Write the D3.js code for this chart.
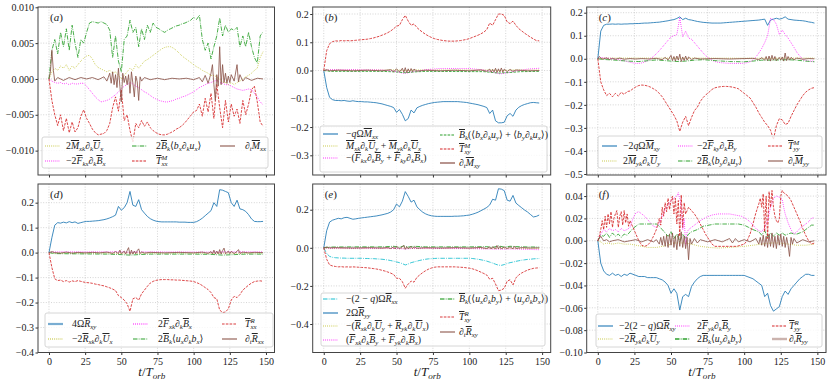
<!DOCTYPE html>
<html>
<head>
<meta charset="utf-8">
<script src="https://cdn.jsdelivr.net/npm/d3@7"></script>
<style>
body { margin: 0; background: #fff; }
svg text { font-family: "Liberation Serif", "DejaVu Serif", serif; fill: #222; }
</style>
</head>
<body>
<script>
// time axis (t / T_orb), sampled every 2 orbits
const tOrb = [0,2,4,6,8,10,12,14,16,18,
  20,22,24,26,28,30,32,34,36,38,
  40,42,44,46,48,50,52,54,56,58,
  60,62,64,66,68,70,72,74,76,78,
  80,82,84,86,88,90,92,94,96,98,
  100,102,104,106,108,110,112,114,116,118,
  120,122,124,126,128,130,132,134,136,138,
  140,142,144,146,148];

const xTicks = [0, 25, 50, 75, 100, 125, 150];
const aTicks = [-0.010, -0.005, 0, 0.005, 0.010];
const bTicks = [-0.3, -0.2, -0.1, 0, 0.1, 0.2];
const cTicks = [-0.5, -0.4, -0.3, -0.2, -0.1, 0, 0.1, 0.2];
const dTicks = [-0.4, -0.3, -0.2, -0.1, 0, 0.1, 0.2];
const eTicks = [-0.4, -0.2, 0, 0.2];
const fTicks = [-0.10, -0.08, -0.06, -0.04, -0.02, 0, 0.02, 0.04];

// ---- panel (a) : M_xx budget
const aYellow = [0,.0010,.0015,.0012,.0018,.0015,.0020,.0012,.0018,.0015,
  .0020,.0025,.0029,.0032,.0033,.0028,.0020,.0016,.0014,.0012,
  .0010,.0012,.0008,.0010,.0005,.0000,.0005,.0010,.0015,.0012,
  .0020,.0015,.0020,.0025,.0027,.0030,.0033,.0036,.0039,.0042,
  .0044,.0045,.0045,.0043,.0040,.0036,.0032,.0029,.0026,.0023,
  .0020,.0017,.0015,.0012,.0010,.0008,.0005,.0005,.0003,.0000,
  -.0005,-.0005,-.0008,-.0005,-.0008,-.0005,-.0003,.0000,.0003,.0005,
  .0008,.0012,.0015,.0030,.0038];
const aMagenta = [0,-.0003,-.0005,-.0006,-.0005,-.0007,-.0006,-.0008,-.0006,-.0007,
  -.0007,-.0006,-.0006,-.0010,-.0015,-.0020,-.0025,-.0029,-.0032,-.0031,
  -.0030,-.0028,-.0025,-.0022,-.0018,-.0014,-.0010,-.0008,-.0005,-.0007,
  -.0010,-.0012,-.0015,-.0018,-.0020,-.0023,-.0026,-.0028,-.0030,-.0031,
  -.0032,-.0032,-.0031,-.0030,-.0028,-.0027,-.0025,-.0024,-.0022,-.0020,
  -.0018,-.0015,-.0012,-.0010,-.0008,-.0006,-.0005,-.0003,-.0002,-.0005,
  -.0006,-.0008,-.0008,-.0010,-.0012,-.0014,-.0015,-.0016,-.0015,-.0014,
  -.0015,-.0020,-.0025,-.0032,-.0036];
const aGreen = [0,.0040,.0055,.0035,.0065,.0045,.0070,.0040,.0075,.0050,
  .0030,.0055,.0050,.0065,.0078,.0080,.0079,.0078,.0080,.0078,
  .0076,.0068,.0030,.0060,.0025,.0010,.0055,.0060,.0082,.0065,
  .0072,.0045,.0070,.0055,.0075,.0065,.0078,.0072,.0070,.0067,
  .0065,.0068,.0070,.0072,.0074,.0075,.0077,.0078,.0080,.0082,
  .0086,.0083,.0089,.0055,.0040,.0050,.0028,.0045,.0060,.0085,
  .0060,.0075,.0065,.0070,.0068,.0072,.0045,.0060,.0045,.0065,
  .0045,.0030,.0022,.0060,.0066];
const aRed = [0,-.0030,-.0050,-.0065,-.0050,-.0072,-.0055,-.0075,-.0060,-.0074,
  -.0068,-.0052,-.0043,-.0055,-.0062,-.0070,-.0075,-.0078,-.0077,-.0076,
  -.0072,-.0062,-.0040,-.0025,-.0045,-.0015,-.0058,-.0050,-.0072,-.0088,
  -.0062,-.0068,-.0058,-.0066,-.0060,-.0068,-.0072,-.0075,-.0077,-.0078,
  -.0078,-.0077,-.0075,-.0073,-.0070,-.0068,-.0065,-.0061,-.0056,-.0051,
  -.0046,-.0044,-.0035,-.0052,-.0027,-.0046,-.0020,-.0055,-.0007,-.0040,
  -.0068,-.0030,-.0060,-.0035,-.0052,-.0042,-.0062,-.0030,-.0050,-.0035,
  -.0015,-.0010,-.0032,-.0060,-.0066];
const aBrown = [[0,0],[1,.0010],[2,.0040],[3,.0012],[4,-.0003],[6,.0002],[10,-.0002],[14,.0002],[18,-.0001],
  [22,.0002],[26,0],[30,.0002],[34,-.0001],[38,.0003],[40,-.0003],[42,.0008],[43,-.0006],[44,.0010],
  [45,-.0008],[46,.0006],[47,-.0012],[48,.0015],[49,-.0010],[50,-.0032],[51,.0008],[52,-.0005],
  [53,.0004],[54,-.0008],[55,.0006],[56,-.0020],[57,.0010],[58,-.0006],[59,-.0025],[60,.0004],
  [61,-.0004],[62,-.0030],[63,.0003],[64,-.0003],[66,.0002],[70,-.0001],[75,.0001],[80,-.0001],
  [85,.0001],[90,0],[95,.0001],[100,-.0001],[104,.0002],[106,-.0004],[108,.0005],[110,-.0006],
  [112,.0008],[113,.0020],[114,-.0008],[115,-.0030],[116,.0006],[117,-.0010],[118,.0045],[119,-.0008],
  [120,.0020],[121,-.0005],[122,.0008],[123,-.0006],[124,.0004],[125,-.0005],[126,.0006],[128,-.0003],
  [130,.0020],[131,-.0004],[132,.0006],[134,-.0003],[136,.0002],[140,-.0002],[144,.0001],[148,0]];

// ---- panel (b) : M_xy budget
const bBlue = [0,-.060,-.095,-.103,-.106,-.106,-.107,-.106,-.108,-.109,
  -.107,-.109,-.110,-.110,-.111,-.111,-.112,-.113,-.114,-.116,
  -.118,-.121,-.124,-.127,-.131,-.148,-.138,-.155,-.178,-.170,
  -.140,-.150,-.132,-.127,-.123,-.120,-.117,-.115,-.113,-.112,
  -.111,-.110,-.110,-.110,-.110,-.110,-.110,-.111,-.112,-.113,
  -.115,-.117,-.119,-.121,-.124,-.127,-.131,-.152,-.140,-.178,
  -.185,-.185,-.183,-.160,-.152,-.162,-.140,-.130,-.124,-.120,
  -.117,-.114,-.113,-.114,-.115];
const bYellow = [[0,0],[4,.002],[50,.002],[56,.000],[64,.002],[116,.002],[122,.000],[130,.002],[148,.002]];
const bMagenta = [[0,0],[5,.003],[20,.003],[40,.002],[48,-.002],[55,-.010],[58,-.008],[62,-.004],[70,.003],
  [80,.007],[100,.007],[110,.002],[116,-.006],[121,-.012],[126,-.008],[132,-.002],[140,.005],[148,.008]];
const bGreen = [[0,0],[5,-.003],[40,-.003],[50,-.005],[56,-.008],[62,-.005],[70,-.003],[110,-.004],
  [120,-.009],[128,-.007],[135,-.004],[148,-.003]];
const bRed = [0,.070,.095,.102,.105,.104,.106,.105,.106,.105,
  .106,.107,.108,.109,.110,.111,.113,.115,.118,.121,
  .125,.129,.134,.140,.148,.157,.160,.180,.195,.175,
  .160,.165,.152,.143,.135,.128,.122,.117,.113,.110,
  .108,.106,.105,.104,.104,.104,.105,.106,.108,.110,
  .113,.117,.121,.125,.130,.136,.145,.168,.160,.180,
  .200,.200,.195,.172,.166,.175,.160,.148,.140,.132,
  .125,.118,.112,.106,.105];
const bBrown = [[0,0],[2,.003],[4,-.001],[10,.001],[20,-.001],[30,.001],[40,-.001],[46,.003],[48,-.004],
  [50,.006],[52,-.005],[54,.008],[55,-.006],[56,.010],[57,-.008],[58,.006],[59,-.005],[60,.007],
  [61,-.004],[62,.005],[64,-.002],[70,.001],[80,-.001],[90,.001],[100,-.001],[108,.002],[112,-.003],
  [114,.005],[115,-.006],[116,.004],[117,-.005],[118,.008],[119,-.007],[120,.006],[121,-.005],
  [122,.009],[123,-.006],[124,.005],[126,-.004],[128,.004],[130,-.003],[132,.002],[140,-.001],[148,0]];

// ---- panel (c) : M_yy budget
const cBlue = [0,.120,.145,.150,.150,.151,.150,.151,.150,.151,
  .151,.152,.152,.153,.153,.154,.155,.155,.156,.157,
  .158,.159,.161,.163,.165,.168,.170,.175,.182,.170,
  .176,.170,.168,.165,.162,.160,.158,.157,.156,.155,
  .155,.155,.155,.156,.157,.158,.159,.160,.161,.162,
  .163,.164,.165,.166,.167,.168,.170,.172,.145,.168,
  .172,.176,.172,.175,.182,.172,.170,.168,.167,.166,
  .165,.163,.160,.158,.155];
const cYellow = [[0,0],[4,.003],[50,.003],[58,.002],[66,.003],[118,.002],[126,.003],[148,.003]];
const cMagenta = [0,.006,.004,.002,.003,.000,-.002,-.004,-.006,-.008,
  -.012,-.015,-.018,-.020,-.020,-.018,-.014,-.008,.000,.010,
  .022,.035,.050,.065,.080,.095,.100,.105,.180,.095,
  .120,.090,.085,.070,.055,.040,.025,.012,.002,-.006,
  -.012,-.015,-.017,-.018,-.019,-.020,-.020,-.020,-.020,-.020,
  -.019,-.017,-.013,-.005,.008,.025,.045,.070,.100,.175,
  .170,.150,.105,.125,.105,.090,.070,.050,.028,.012,
  -.002,-.008,-.010,-.010,-.010];
const cGreen = [[0,0],[4,-.003],[10,-.005],[20,-.010],[28,-.012],[35,-.008],[40,-.005],[46,-.008],
  [50,-.010],[55,-.012],[60,-.010],[66,-.006],[72,-.004],[80,-.008],[90,-.012],[100,-.013],
  [106,-.010],[112,-.006],[118,-.006],[124,-.005],[130,-.004],[136,-.006],[142,-.010],[148,-.013]];
const cRed = [0,-.100,-.135,-.160,-.150,-.165,-.150,-.162,-.145,-.155,
  -.142,-.140,-.130,-.122,-.116,-.114,-.115,-.118,-.123,-.130,
  -.138,-.150,-.165,-.185,-.205,-.225,-.245,-.270,-.315,-.275,
  -.250,-.290,-.255,-.225,-.210,-.185,-.168,-.155,-.145,-.133,
  -.126,-.123,-.121,-.120,-.120,-.121,-.123,-.126,-.130,-.140,
  -.150,-.160,-.170,-.190,-.210,-.235,-.255,-.275,-.290,-.310,
  -.350,-.290,-.260,-.265,-.285,-.280,-.250,-.225,-.200,-.180,
  -.160,-.145,-.135,-.128,-.125];
const cBrown = [[0,0],[1,.010],[2,.004],[3,-.002],[6,.004],[8,-.003],[10,.002],[12,-.002],[15,.003],
  [18,-.002],[22,.001],[26,-.001],[30,.001],[35,-.001],[40,.002],[44,-.004],[46,.006],[48,-.005],
  [50,.015],[51,-.008],[52,.010],[53,-.010],[54,.012],[55,-.006],[56,.020],[57,-.012],[58,.008],
  [59,-.008],[60,.012],[61,-.006],[62,.008],[64,-.004],[66,.003],[70,-.001],[80,.001],[90,-.001],
  [100,.001],[106,.002],[110,-.004],[112,.005],[114,-.006],[115,.010],[116,-.008],[117,.012],
  [118,-.010],[119,.015],[120,-.006],[121,.010],[122,-.008],[124,.006],[125,-.006],[126,.008],
  [127,-.010],[128,.025],[129,-.008],[130,.010],[131,-.006],[132,.006],[134,-.004],[136,.003],
  [140,-.002],[144,.001],[148,0]];

// ---- panel (d) : R_xx budget
const dBlue = [0,.060,.110,.120,.118,.122,.119,.124,.120,.123,
  .117,.120,.123,.125,.125,.126,.127,.128,.130,.132,
  .135,.139,.144,.150,.185,.170,.180,.200,.245,.190,
  .185,.212,.172,.158,.145,.136,.130,.126,.124,.123,
  .123,.123,.123,.123,.123,.122,.122,.122,.121,.121,
  .121,.124,.130,.138,.148,.158,.168,.200,.185,.252,
  .250,.245,.240,.200,.185,.210,.175,.172,.165,.152,
  .135,.125,.124,.124,.125];
const dYellow = [[0,0],[4,-.002],[50,-.002],[56,-.001],[62,-.002],[148,-.002]];
const dMagenta = [[0,0],[4,.003],[50,.003],[56,.001],[62,.003],[118,.002],[124,.003],[148,.003]];
const dGreen = [[0,0],[4,-.004],[20,-.005],[40,-.006],[50,-.008],[56,-.010],[62,-.008],[70,-.006],
  [100,-.006],[112,-.007],[120,-.010],[128,-.008],[136,-.006],[148,-.006]];
const dRed = [0,-.060,-.105,-.112,-.110,-.116,-.112,-.118,-.113,-.116,
  -.112,-.115,-.118,-.120,-.121,-.123,-.126,-.128,-.131,-.133,
  -.137,-.141,-.146,-.152,-.172,-.180,-.190,-.205,-.235,-.185,
  -.180,-.190,-.165,-.150,-.135,-.122,-.115,-.111,-.109,-.108,
  -.108,-.108,-.109,-.109,-.110,-.110,-.111,-.112,-.113,-.114,
  -.116,-.120,-.125,-.132,-.140,-.148,-.160,-.180,-.185,-.230,
  -.240,-.238,-.225,-.190,-.175,-.180,-.168,-.150,-.140,-.130,
  -.122,-.116,-.114,-.113,-.115];
const dBrown = [[0,0],[2,.004],[4,0],[8,-.002],[12,.002],[16,-.002],[20,.001],[25,-.001],[30,.001],
  [35,-.001],[40,.002],[44,-.003],[46,.004],[48,-.004],[49,.010],[50,-.005],[52,.006],[53,-.006],
  [54,.008],[55,.020],[56,-.008],[57,.010],[58,-.006],[59,.006],[60,-.005],[61,.008],[62,.015],
  [63,-.004],[64,.003],[66,-.002],[70,.001],[80,-.001],[90,.001],[100,-.001],[106,.002],[110,-.003],
  [112,.004],[113,-.005],[114,.010],[115,-.006],[116,.006],[117,-.005],[118,.012],[119,-.006],
  [120,.008],[121,.018],[122,-.005],[124,.006],[125,-.004],[126,.005],[128,-.004],[130,.005],
  [131,.012],[132,-.003],[134,.002],[138,-.001],[142,.001],[148,0]];

// ---- panel (e) : R_xy budget
const eCyan = [0,-.030,-.045,-.050,-.052,-.053,-.054,-.054,-.055,-.055,
  -.055,-.055,-.055,-.055,-.056,-.056,-.057,-.057,-.058,-.059,
  -.060,-.062,-.064,-.067,-.070,-.074,-.078,-.083,-.090,-.085,
  -.078,-.074,-.070,-.066,-.063,-.060,-.058,-.057,-.056,-.055,
  -.055,-.055,-.055,-.055,-.055,-.055,-.055,-.055,-.055,-.055,
  -.055,-.056,-.058,-.060,-.063,-.066,-.070,-.075,-.080,-.086,
  -.091,-.092,-.088,-.082,-.078,-.075,-.071,-.068,-.065,-.063,
  -.061,-.060,-.058,-.057,-.056];
const eBlue = [0,.090,.135,.145,.150,.155,.152,.158,.160,.155,
  .150,.152,.155,.157,.159,.161,.163,.165,.167,.170,
  .173,.177,.181,.188,.200,.230,.215,.245,.295,.270,
  .240,.250,.215,.200,.187,.178,.172,.168,.166,.165,
  .165,.165,.165,.165,.165,.166,.166,.167,.168,.170,
  .172,.176,.181,.187,.195,.203,.212,.225,.255,.250,
  .310,.308,.300,.250,.245,.275,.235,.222,.210,.198,
  .188,.175,.162,.165,.172];
const eYellow = [[0,0],[4,-.004],[50,-.004],[56,-.002],[62,-.004],[118,-.004],[122,-.002],[130,-.004],[148,-.004]];
const eMagenta = [[0,0],[4,-.002],[30,-.003],[50,-.003],[56,-.006],[62,-.003],[100,-.004],[120,-.007],
  [130,-.006],[148,-.010]];
const eGreen = [[0,0],[4,.004],[20,.005],[40,.005],[48,.008],[52,.003],[55,.010],[58,.004],[62,.008],
  [70,.005],[100,.005],[112,.006],[116,.002],[120,.010],[124,.004],[128,.008],[136,.005],[148,.004]];
const eRed = [0,-.060,-.090,-.095,-.098,-.100,-.099,-.101,-.100,-.101,
  -.100,-.101,-.102,-.103,-.104,-.105,-.107,-.109,-.111,-.114,
  -.118,-.122,-.127,-.133,-.140,-.160,-.160,-.178,-.212,-.190,
  -.175,-.180,-.155,-.142,-.130,-.120,-.112,-.106,-.102,-.100,
  -.100,-.100,-.100,-.100,-.100,-.100,-.101,-.102,-.103,-.105,
  -.107,-.110,-.115,-.121,-.128,-.135,-.143,-.165,-.160,-.190,
  -.225,-.222,-.212,-.175,-.168,-.195,-.158,-.142,-.132,-.124,
  -.117,-.112,-.108,-.106,-.105];
const eBrown = [[0,0],[2,.004],[4,0],[10,.001],[20,-.001],[30,.001],[40,-.001],[44,.002],[46,-.004],
  [48,.005],[49,-.006],[50,.008],[52,-.005],[54,.006],[55,.012],[56,-.008],[57,.006],[58,-.005],
  [60,.007],[61,-.004],[62,.005],[64,-.002],[70,.001],[80,-.001],[90,.001],[100,-.001],[108,.002],
  [112,-.004],[114,.005],[115,-.006],[116,.006],[118,-.005],[119,.012],[120,-.006],[121,.008],
  [122,-.005],[124,.004],[126,-.004],[128,.005],[130,-.005],[131,.008],[132,-.003],[136,.001],
  [142,-.001],[148,0]];

// ---- panel (f) : R_yy budget
const fBlue = [0,-.020,-.027,-.030,-.031,-.029,-.031,-.030,-.032,-.030,
  -.031,-.029,-.030,-.031,-.032,-.032,-.032,-.033,-.033,-.033,
  -.033,-.034,-.035,-.037,-.040,-.047,-.043,-.047,-.062,-.050,
  -.048,-.050,-.041,-.037,-.034,-.032,-.031,-.031,-.031,-.031,
  -.031,-.031,-.031,-.031,-.031,-.031,-.031,-.031,-.031,-.031,
  -.031,-.032,-.033,-.034,-.036,-.038,-.040,-.050,-.047,-.058,
  -.063,-.061,-.059,-.050,-.045,-.048,-.043,-.040,-.037,-.034,
  -.032,-.030,-.030,-.031,-.031];
const fYellow = [[0,0],[2,-.001],[4,-.003],[6,-.002],[10,-.003],[14,-.002],[18,-.003],[22,-.003],
  [26,-.004],[30,-.005],[34,-.006],[40,-.006],[44,-.005],[48,-.004],[52,-.002],[56,-.002],[60,-.002],
  [64,-.003],[70,-.005],[76,-.006],[82,-.0065],[90,-.006],[100,-.005],[106,-.004],[112,-.003],
  [118,-.002],[124,-.002],[130,-.003],[136,-.004],[142,-.004],[148,-.003]];
const fMagenta = [[0,0],[2,.006],[4,.010],[6,.008],[8,.011],[10,.009],[12,.010],[14,.008],[16,.011],
  [18,.009],[20,.010],[22,.012],[24,.020],[26,.025],[28,.026],[30,.024],[32,.022],[34,.019],[36,.016],
  [38,.013],[40,.012],[42,.015],[44,.022],[46,.028],[48,.032],[50,.036],[52,.038],[54,.040],[55,.043],
  [56,.038],[57,.030],[58,.010],[59,.020],[60,-.004],[61,.008],[62,.010],[64,.012],[66,.014],[68,.016],
  [70,.018],[74,.021],[78,.023],[82,.024],[86,.024],[90,.024],[94,.023],[98,.022],[101,.020],[104,.017],
  [106,.014],[108,.011],[110,.009],[112,.008],[114,.012],[116,.018],[118,.030],[120,.038],[122,.040],
  [124,.039],[126,.037],[127,.030],[128,.024],[130,.016],[132,.010],[134,.006],[136,.008],[138,.011],
  [140,.013],[142,.015],[144,.017],[146,.020],[148,.021]];
const fGreen = [[0,0],[2,.005],[4,.004],[6,.007],[8,.003],[10,.007],[12,.004],[14,.006],[16,.003],
  [18,.006],[20,.005],[22,.008],[24,.011],[26,.013],[28,.015],[32,.015],[36,.015],[40,.015],[42,.013],
  [44,.010],[46,.007],[48,.004],[50,.008],[52,.002],[54,.006],[56,-.001],[58,.006],[60,.002],[62,.006],
  [64,.008],[68,.010],[72,.013],[76,.014],[80,.015],[90,.015],[96,.015],[100,.014],[103,.012],[106,.010],
  [110,.008],[112,.005],[114,.009],[116,.003],[118,.007],[120,.004],[122,.007],[124,.005],[126,.007],
  [128,.005],[130,.006],[132,.007],[134,.006],[136,.006],[140,.008],[142,.010],[144,.012],[146,.014],
  [148,.014]];
const fRed = [[0,0],[1,.004],[2,.010],[3,.018],[4,.010],[5,.022],[6,.012],[7,.024],[8,.015],[9,.026],
  [10,.012],[11,.020],[12,.024],[13,.027],[14,.012],[15,.022],[16,.026],[17,.014],[18,.027],[19,.016],
  [20,.024],[21,.013],[22,.018],[24,.012],[26,.006],[28,.000],[30,-.004],[32,-.005],[34,-.004],
  [36,-.001],[38,.004],[40,.010],[42,.020],[43,.014],[44,.030],[45,.022],[46,.034],[47,.026],[48,.038],
  [49,.028],[50,.036],[51,.040],[52,.024],[53,.038],[54,.015],[55,.036],[56,.004],[57,.041],[58,.012],
  [59,.034],[60,.024],[62,.030],[64,.027],[66,.024],[68,.020],[70,.015],[72,.010],[74,.005],[76,.001],
  [78,-.003],[80,-.005],[85,-.005],[90,-.005],[95,-.005],[100,-.003],[102,.000],[104,.006],[106,.015],
  [108,.025],[110,.033],[111,.038],[112,.030],[113,.042],[114,.008],[115,.040],[116,.002],[117,.044],
  [118,.030],[119,.045],[120,.030],[121,.022],[122,.018],[123,.016],[124,.020],[125,.040],[126,.045],
  [127,.043],[128,.042],[130,.040],[132,.036],[134,.030],[136,.024],[138,.018],[140,.011],[142,.005],
  [144,.000],[146,-.003],[148,-.002]];
const fBrown = [[0,0],[1,.002],[2,.004],[3,.002],[4,0],[6,.001],[8,-.001],[10,0],[14,.001],[18,-.001],
  [22,0],[26,.001],[30,-.001],[34,.001],[38,-.001],[40,.001],[42,-.003],[43,.003],[44,-.004],[45,.004],
  [46,-.005],[47,.005],[48,-.006],[49,.006],[50,-.004],[51,.007],[52,-.006],[53,.004],[54,-.008],
  [55,.006],[56,-.005],[57,.008],[58,-.006],[59,.004],[60,-.007],[61,.003],[62,-.017],[63,.002],
  [64,-.003],[66,.002],[68,-.002],[70,.001],[75,-.001],[80,.001],[85,-.001],[90,.002],[92,-.002],
  [94,.002],[96,-.001],[100,.001],[104,-.001],[108,.002],[110,-.003],[111,.003],[112,-.004],[113,.005],
  [114,-.005],[115,.004],[116,-.006],[117,.006],[118,-.005],[119,.007],[120,-.006],[121,.004],
  [122,-.007],[123,.005],[124,-.004],[125,.006],[126,-.005],[127,.004],[128,-.006],[129,.003],
  [130,-.004],[131,-.014],[132,.003],[133,-.003],[134,.002],[136,-.002],[140,.001],[144,-.001],[148,0]];

// ---------------------------------------------------------------- drawing
const width = 830, height = 383;
const xDomain = [-7.6, 155.9];
const C = {blue:'#1f77b4', olive:'#bcbd22', magenta:'#ff00ff', green:'#2ca02c',
           red:'#d62728', brown:'#8c564b', cyan:'#17becf'};
const DASH = {solid:null, dotted:'0.8,1.3', dashed:'2.6,1.2', dashdot:'4.5,1.2,0.8,1.2'};

const onGrid = vals => tOrb.map((t, i) => [t, vals[i]]);

const rowTop = {y0: 7, y1: 175}, rowBot = {y0: 184, y1: 352.5};
const colA = {x0: 38, x1: 274.5}, colB = {x0: 312.7, x1: 550.7}, colC = {x0: 586.7, x1: 826};

const panels = [
  {id:'a', ...colA, ...rowTop, yDomain:[-0.0134, 0.01004], yTicks:aTicks, fmt:'.3f', xLabels:false,
   series:[
     {pts:onGrid(aYellow), color:C.olive, dash:'dotted', label:'2~M_{xk}∂_k~U_x'},
     {pts:onGrid(aMagenta), color:C.magenta, dash:'dotted', label:'−2~F_{kx}∂_k~B_x'},
     {pts:onGrid(aGreen), color:C.green, dash:'dashdot', label:'2~B_k⟨b_x∂_ku_x⟩'},
     {pts:onGrid(aRed), color:C.red, dash:'dashed', label:'~T^M_{xx}'},
     {pts:aBrown, color:C.brown, dash:'solid', label:'∂_t~M_{xx}'}],
   legend:{box:[42,137,268,168], cols:[{hx:45,tx:66,rows:[146,161]},{hx:132,tx:156,rows:[146,161]},{hx:220,tx:245,rows:[146]}]}},
  {id:'b', ...colB, ...rowTop, yDomain:[-0.3697, 0.2248], yTicks:bTicks, fmt:'.1f', xLabels:false,
   series:[
     {pts:onGrid(bBlue), color:C.blue, dash:'solid', label:'−qΩ~M_{xx}'},
     {pts:bYellow, color:C.olive, dash:'dotted', label:'~M_{xk}∂_k~U_y + ~M_{yk}∂_k~U_x'},
     {pts:bMagenta, color:C.magenta, dash:'dotted', label:'−(~F_{kx}∂_k~B_y + ~F_{ky}∂_k~B_x)'},
     {pts:bGreen, color:C.green, dash:'dashed', label:'~B_k(⟨b_x∂_ku_y⟩ + ⟨b_y∂_ku_x⟩)'},
     {pts:onGrid(bRed), color:C.red, dash:'dashed', label:'~T^M_{xy}'},
     {pts:bBrown, color:C.brown, dash:'solid', label:'∂_t~M_{xy}', hw:1.8, ho:0.7}],
   legend:{box:[320,126,547,172], cols:[{hx:323,tx:346,rows:[134,146,158]},{hx:440,tx:459,rows:[135,149,163]}]}},
  {id:'c', ...colC, ...rowTop, yDomain:[-0.5043, 0.2247], yTicks:cTicks, fmt:'.1f', xLabels:false,
   series:[
     {pts:onGrid(cBlue), color:C.blue, dash:'solid', label:'−2qΩ~M_{xy}'},
     {pts:cYellow, color:C.olive, dash:'dotted', label:'2~M_{yk}∂_k~U_y'},
     {pts:onGrid(cMagenta), color:C.magenta, dash:'dotted', label:'−2~F_{ky}∂_k~B_y'},
     {pts:cGreen, color:C.green, dash:'dashdot', label:'2~B_k⟨b_y∂_ku_y⟩'},
     {pts:onGrid(cRed), color:C.red, dash:'dashed', label:'~T^M_{yy}'},
     {pts:cBrown, color:C.brown, dash:'solid', label:'∂_t~M_{yy}'}],
   legend:{box:[598,136,822,168], cols:[{hx:602,tx:623,rows:[146,161]},{hx:678,tx:697,rows:[146,161]},{hx:768,tx:788,rows:[146,161]}]}},
  {id:'d', ...colA, ...rowBot, yDomain:[-0.4, 0.2748], yTicks:dTicks, fmt:'.1f', xLabels:true,
   series:[
     {pts:onGrid(dBlue), color:C.blue, dash:'solid', label:'4Ω~R_{xy}', hw:2.2, ho:0.6},
     {pts:dYellow, color:C.olive, dash:'dotted', label:'−2~R_{xk}∂_k~U_x', hw:1.8, ho:0.6},
     {pts:dMagenta, color:C.magenta, dash:'dotted', label:'2~F_{xk}∂_k~B_x', hw:1.8, ho:0.6},
     {pts:dGreen, color:C.green, dash:'dashdot', label:'2~B_k⟨u_x∂_kb_x⟩'},
     {pts:onGrid(dRed), color:C.red, dash:'dashed', label:'~T^R_{xx}', hw:1.6, ho:0.6},
     {pts:dBrown, color:C.brown, dash:'solid', label:'∂_t~R_{xx}'}],
   legend:{box:[45,313,273,347], cols:[{hx:48,tx:72,rows:[324,339]},{hx:133,tx:158,rows:[324,339]},{hx:222,tx:245,rows:[324,339]}]}},
  {id:'e', ...colB, ...rowBot, yDomain:[-0.5496, 0.335], yTicks:eTicks, fmt:'.1f', xLabels:true,
   series:[
     {pts:onGrid(eCyan), color:C.cyan, dash:'dashdot', label:'−(2 − q)Ω~R_{xx}'},
     {pts:onGrid(eBlue), color:C.blue, dash:'solid', label:'2Ω~R_{yy}'},
     {pts:eYellow, color:C.olive, dash:'dotted', label:'−(~R_{xk}∂_k~U_y + ~R_{yk}∂_k~U_x)'},
     {pts:eMagenta, color:C.magenta, dash:'dotted', label:'(~F_{xk}∂_k~B_y + ~F_{yk}∂_k~B_x)'},
     {pts:eGreen, color:C.green, dash:'dashdot', label:'~B_k(⟨u_x∂_kb_y⟩ + ⟨u_y∂_kb_x⟩)', hw:2, ho:0.6},
     {pts:onGrid(eRed), color:C.red, dash:'dashed', label:'~T^R_{xy}', hw:1.6, ho:0.6},
     {pts:eBrown, color:C.brown, dash:'solid', label:'∂_t~R_{xy}'}],
   legend:{box:[321,293,545,346], cols:[{hx:323,tx:346,rows:[299,313,326,340]},{hx:440,tx:459,rows:[299,317,332]}]}},
  {id:'f', ...colC, ...rowBot, yDomain:[-0.1, 0.0508], yTicks:fTicks, fmt:'.2f', xLabels:true,
   series:[
     {pts:onGrid(fBlue), color:C.blue, dash:'solid', label:'−2(2 − q)Ω~R_{xy}'},
     {pts:fYellow, color:C.olive, dash:'dotted', label:'−2~R_{yk}∂_k~U_y'},
     {pts:fMagenta, color:C.magenta, dash:'dotted', label:'2~F_{yk}∂_k~B_y'},
     {pts:fGreen, color:C.green, dash:'dashdot', label:'2~B_k⟨u_y∂_kb_y⟩', hw:1.6},
     {pts:fRed, color:C.red, dash:'dashed', label:'~T^R_{yy}'},
     {pts:fBrown, color:C.brown, dash:'solid', label:'∂_t~R_{yy}', hw:2.4, ho:0.45}],
   legend:{box:[596,314,822,347], cols:[{hx:598,tx:619,rows:[326,339]},{hx:675,tx:697,rows:[326,339]},{hx:772,tx:789,rows:[326,339]}]}}
];

const svg = d3.select('body').append('svg')
  .attr('width', width).attr('height', height)
  .style('background', '#fff');

// tiny TeX-ish markup: ~X overbar, _x / _{..} subscript, ^x superscript
function parseTex(s) {
  const runs = [];
  let i = 0;
  while (i < s.length) {
    const c = s[i];
    if (c === '~') { runs.push({t: s[i + 1], it: true, bar: true, lv: 0}); i += 2; continue; }
    if (c === '_' || c === '^') {
      let body;
      if (s[i + 1] === '{') { const j = s.indexOf('}', i); body = s.slice(i + 2, j); i = j + 1; }
      else { body = s[i + 1]; i += 2; }
      const prev = runs[runs.length - 1];
      runs.push({t: body, it: /[A-Za-z]/.test(body), lv: c === '_' ? 1 : -1,
                 stack: c === '_' && prev && prev.lv === -1});
      continue;
    }
    runs.push({t: c, it: /[A-Za-z]/.test(c), lv: 0});
    i++;
  }
  return runs;
}

function drawTex(g, x, y, s, size, anchor) {
  const text = g.append('text').attr('x', x).attr('y', y)
    .style('font-size', size + 'px').style('white-space', 'pre');
  let cur = 0, supLen = 0;
  parseTex(s).forEach(r => {
    const target = r.lv === 1 ? size * 0.25 : r.lv === -1 ? -size * 0.4 : 0;
    const ts = text.append('tspan').attr('dy', target - cur).text(r.t)
      .style('font-style', r.it ? 'italic' : 'normal');
    if (r.lv) ts.style('font-size', (size * 0.7) + 'px');
    if (r.bar) ts.style('text-decoration', 'overline');
    if (r.stack) ts.attr('dx', -supLen);
    if (r.lv === -1) supLen = ts.node().getComputedTextLength();
    cur = target;
  });
  if (anchor) text.attr('text-anchor', anchor);
  return text;
}

function drawPanel(p) {
  const x = d3.scaleLinear().domain(xDomain).range([p.x0, p.x1]);
  const y = d3.scaleLinear().domain(p.yDomain).range([p.y1, p.y0]);
  const g = svg.append('g');

  svg.append('clipPath').attr('id', 'clip-' + p.id)
    .append('rect').attr('x', p.x0).attr('y', p.y0)
    .attr('width', p.x1 - p.x0).attr('height', p.y1 - p.y0);

  // grid
  const grid = g.append('g').attr('stroke', '#b8b8b8').attr('stroke-width', 0.6)
    .attr('stroke-dasharray', '1,1.6');
  grid.selectAll('.gx').data(xTicks).join('line')
    .attr('x1', d => x(d)).attr('x2', d => x(d)).attr('y1', p.y0).attr('y2', p.y1);
  grid.selectAll('.gy').data(p.yTicks).join('line')
    .attr('x1', p.x0).attr('x2', p.x1).attr('y1', d => y(d)).attr('y2', d => y(d));

  // curves
  const line = d3.line().x(d => x(d[0])).y(d => y(d[1]));
  const lines = g.append('g').attr('clip-path', `url(#clip-${p.id})`);
  p.series.forEach(s => {
    lines.append('path').datum(s.pts).attr('d', line)
      .attr('fill', 'none').attr('stroke', s.color).attr('stroke-width', 0.85)
      .attr('stroke-dasharray', DASH[s.dash]).attr('stroke-linejoin', 'round');
  });

  // legend
  const L = p.legend;
  const lg = g.append('g');
  lg.append('rect').attr('x', L.box[0]).attr('y', L.box[1])
    .attr('width', L.box[2] - L.box[0]).attr('height', L.box[3] - L.box[1])
    .attr('rx', 2).attr('fill', '#fff').attr('fill-opacity', 0.8)
    .attr('stroke', '#cccccc').attr('stroke-width', 0.8);
  let k = 0;
  L.cols.forEach(col => {
    col.rows.forEach(ry => {
      const s = p.series[k++];
      lg.append('line').attr('x1', col.hx).attr('x2', col.hx + 15).attr('y1', ry).attr('y2', ry)
        .attr('stroke', s.color).attr('stroke-width', s.hw || 1.1)
        .attr('stroke-opacity', s.ho || 1).attr('stroke-dasharray', DASH[s.dash]);
      drawTex(lg, col.tx, ry + 3, s.label, 9.8);
    });
  });

  // axes
  const xAxis = d3.axisBottom(x).tickValues(xTicks).tickSize(2.5).tickSizeOuter(0).tickPadding(2.5)
    .tickFormat(p.xLabels ? d3.format('d') : () => '');
  g.append('g').attr('transform', `translate(0,${p.y1})`).call(xAxis)
    .call(a => a.select('.domain').remove())
    .attr('font-family', null).attr('font-size', 10).attr('color', '#333');
  const yAxis = d3.axisLeft(y).tickValues(p.yTicks).tickSize(2.5).tickSizeOuter(0).tickPadding(1.5)
    .tickFormat(d3.format(p.fmt));
  g.append('g').attr('transform', `translate(${p.x0},0)`).call(yAxis)
    .call(a => a.select('.domain').remove())
    .attr('font-family', null).attr('font-size', 10).attr('color', '#333');

  // frame
  g.append('rect').attr('x', p.x0).attr('y', p.y0)
    .attr('width', p.x1 - p.x0).attr('height', p.y1 - p.y0)
    .attr('fill', 'none').attr('stroke', '#444').attr('stroke-width', 1);

  // panel tag
  drawTex(g, p.x0 + 12, p.y0 + 14, '(' + p.id + ')', 11);
  if (p.xLabels) drawTex(g, (p.x0 + p.x1) / 2 - 18, 376, 't/T_{orb}', 13);
}

panels.forEach(drawPanel);
</script>
</body>
</html>
